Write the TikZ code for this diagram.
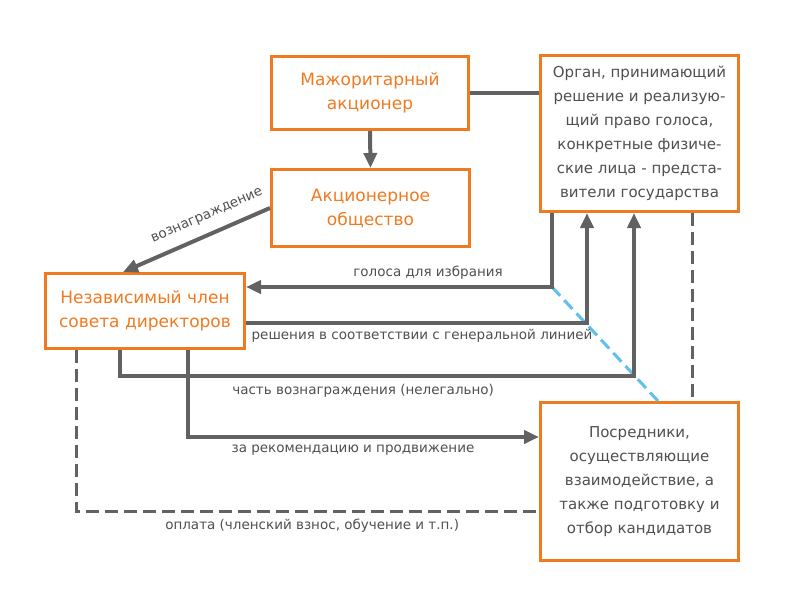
\documentclass[tikz,border=0pt]{standalone}
\usepackage{fontspec}
\setmainfont{DejaVu Sans}
\usetikzlibrary{arrows.meta}
\definecolor{boxorange}{RGB}{240,122,32}
\definecolor{linegray}{RGB}{98,98,98}
\definecolor{textgray}{RGB}{80,80,80}
\definecolor{lightblue}{RGB}{96,192,236}
\begin{document}
\begin{tikzpicture}[x=1pt,y=-1pt]
                \tikzset{>={Triangle[length=15pt,width=13pt]}}
                \tikzset{box/.style={draw=boxorange,line width=3pt,fill=white,align=center,inner sep=2pt}}
                \tikzset{headbox/.style={box,text=boxorange,font=\fontsize{17}{24}\selectfont}}
                \tikzset{plainbox/.style={box,text=textgray,font=\fontsize{15}{24}\selectfont}}
                \tikzset{link/.style={draw=linegray,line width=4pt}}
                \tikzset{dlink/.style={draw=linegray,line width=3pt,dash pattern=on 13pt off 6pt}}
                \tikzset{lbl/.style={text=textgray,font=\fontsize{13.5}{16}\selectfont}}
                \useasboundingbox[fill=white] (0,0) rectangle (800,600);

                \node[headbox,minimum width=197pt,minimum height=73pt] (maj) at (370,93) {Мажоритарный\\акционер};
                \node[headbox,minimum width=198pt,minimum height=77pt] (ao) at (370.5,208) {Акционерное\\общество};
                \node[plainbox,minimum width=198pt,minimum height=156pt] (org) at (639.5,133.5) {Орган, принимающий\\решение и реализую-\\щий право голоса,\\конкретные физиче-\\ские лица - предста-\\вители государства};
                \node[headbox,minimum width=199pt,minimum height=75pt] (nez) at (145,311) {Независимый член\\совета директоров};
                \node[plainbox,minimum width=198pt,minimum height=158pt] (pos) at (639.5,481.5) {Посредники,\\осуществляющие\\взаимодействие, а\\также подготовку и\\отбор кандидатов};

                \coordinate (gol) at (552,287);
                \coordinate (resh) at (587,323);
                \coordinate (ch1) at (120,376);
                \coordinate (ch2) at (634,376);
                \coordinate (rek) at (188,437);
                \coordinate (opl) at (76,511);
                \coordinate (svz) at (692,300);
                \coordinate (bl) at (658,401);

                \draw[link,->] (maj.south) -- (ao.north);
                \draw[link] (maj.east) -- (org.west |- maj.east);
                \draw[link,->] (ao.west) -- ([xshift=-22pt]nez.north) node[lbl,sloped,above=7pt,pos=0.38] {вознаграждение};

                \draw[lightblue,line width=3pt,dash pattern=on 12pt off 6pt] (gol) -- (pos.north -| bl);
                \draw[link,->] (org.south -| gol) -- (gol) -- (nez.east |- gol) node[lbl,above=2pt,pos=0.405] {голоса для избрания};
                \draw[link,->] (nez.east |- resh) -- (resh) -- (org.south -| resh);
                \draw (nez.east |- resh) ++(176,0) node[lbl,below=3pt] {решения в соответствии с генеральной линией};
                \draw[link,->] (nez.south -| ch1) -- (ch1) -- (ch2) node[lbl,below=3pt,pos=0.473] {часть вознаграждения (нелегально)} -- (org.south -| ch2);
                \draw[link,->] (nez.south -| rek) -- (rek) -- (pos.west |- rek) node[lbl,below=3pt,pos=0.47] {за рекомендацию и продвижение};
                \draw[dlink] (nez.south -| opl) -- (opl) -- (pos.west |- opl) node[lbl,below=3pt,pos=0.51] {оплата (членский взнос, обучение и т.п.)};
                \draw[dlink] (org.south -| svz) -- (pos.north -| svz);
            \end{tikzpicture}
\end{document}
